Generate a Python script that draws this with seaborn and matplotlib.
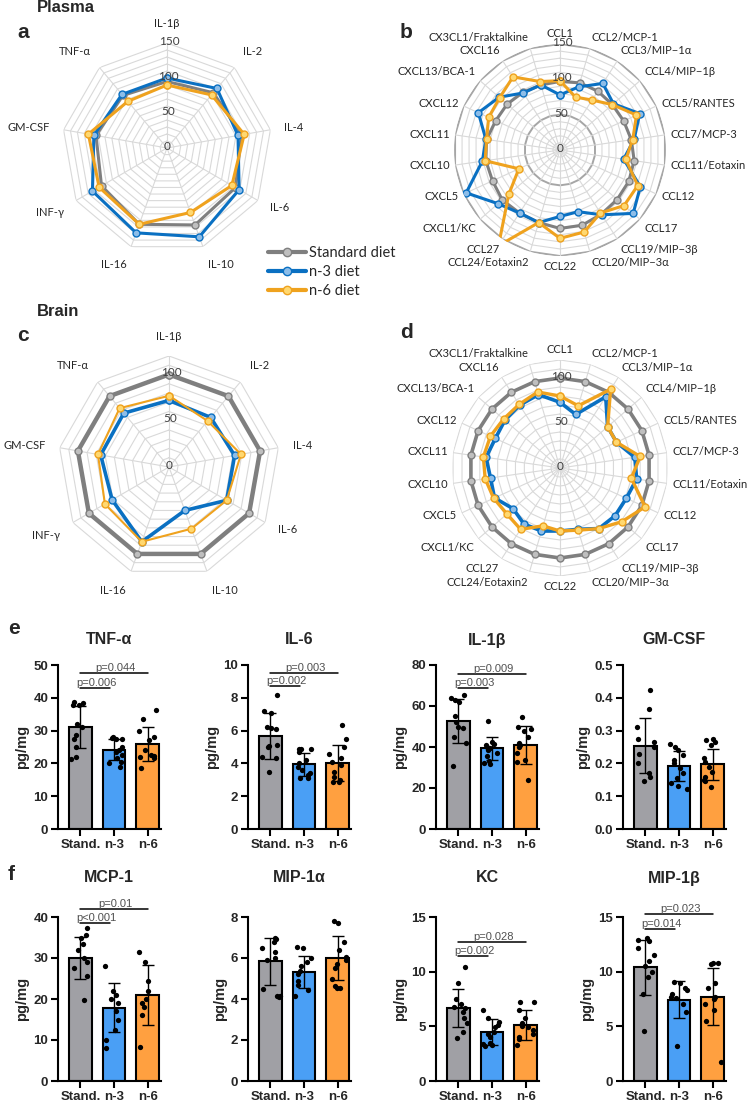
import numpy as np
import pandas as pd
import seaborn as sns
import matplotlib.pyplot as plt
from matplotlib.lines import Line2D

sns.set_theme(style="ticks")
plt.rcParams['font.family'] = ['Liberation Sans', 'DejaVu Sans']
RFONT = ['Lato', 'DejaVu Sans']

W, H = 749, 1103

# ---------------- radar data ----------------
cyto_cats = ['IL-1β', 'IL-2', 'IL-4', 'IL-6', 'IL-10', 'IL-16', 'INF-γ', 'GM-CSF', 'TNF-α']
plasma_std = [95, 103, 108, 113, 117, 116, 108, 103, 98]
plasma_n3 = [100, 111, 103, 119, 135, 129, 123, 106, 100]
plasma_n6 = [90, 99, 112, 107, 98, 116, 112, 114, 87]

brain_std = [100, 100, 100, 100, 100, 100, 100, 100, 100]
brain_n3 = [72, 70, 72, 72, 50, 86, 71, 75, 76]
brain_n6 = [77, 65, 79, 72, 71, 86, 80, 78, 83]

chemo_cats = ['CCL1', 'CCL2/MCP-1', 'CCL3/MIP−1α', 'CCL4/MIP−1β', 'CCL5/RANTES',
              'CCL7/MCP-3', 'CCL11/Eotaxin', 'CCL12', 'CCL17', 'CCL19/MIP−3β',
              'CCL20/MIP−3α', 'CCL22', 'CCL24/Eotaxin2', 'CCL27', 'CXCL1/KC', 'CXCL5',
              'CXCL10', 'CXCL11', 'CXCL12', 'CXCL13/BCA-1', 'CXCL16', 'CX3CL1/Fraktalkine']
pchemo_std = [97, 99, 99, 98, 99, 102, 106, 107, 107, 108, 111, 111, 107, 106, 108, 105, 106, 105, 100, 99, 97, 96]
pchemo_n3 = [78, 93, 112, 100, 124, 106, 91, 125, 137, 109, 91, 94, 107, 106, 116, 146, 111, 106, 127, 114, 96, 96]
pchemo_n6 = [98, 78, 84, 98, 119, 104, 94, 121, 120, 106, 121, 125, 107, 161, 96, 64, 107, 105, 111, 113, 123, 101]

bchemo_std = [100, 100, 100, 100, 100, 100, 100, 100, 100, 100, 100, 100, 100, 100, 100, 100, 100, 100, 100, 100, 100, 100]
bchemo_n3 = [73, 62, 94, 70, 69, 84, 86, 81, 81, 80, 71, 70, 73, 74, 69, 80, 78, 83, 79, 81, 83, 85]
bchemo_n6 = [80, 72, 104, 70, 69, 90, 80, 104, 91, 80, 72, 70, 67, 81, 78, 81, 84, 86, 85, 83, 84, 88]

diet_names = ['Standard diet', 'n-3 diet', 'n-6 diet']
line_cols = ['#7F7F7F', '#0A70C2', '#EFA21E']
face_cols = ['#BFBFBF', '#8DBDE8', '#FFD870']

# ---------------- bar data ----------------
groups = ['Stand.', 'n-3', 'n-6']
bar_cols = ['#A0A0A5', '#4A9FF5', '#FFA040']

tnf_pts = [[38.8, 38.5, 37.8, 37.7, 32, 31, 28.6, 27.3, 25, 22, 21.2],
           [28, 27.8, 27.5, 27.3, 25, 24, 23.5, 22.5, 21.5, 20.5, 20, 19],
           [36.2, 33.5, 30, 28, 27, 24, 22.5, 22.3, 22, 21.7, 18.6]]
tnf_mean = [31.1, 24.1, 25.9]
tnf_sd = [6.3, 3.2, 5.3]

il6_pts = [[8.2, 7.2, 7.05, 6.2, 6.15, 6.1, 5.1, 5.05, 5.0, 4.4, 4.3, 3.5],
           [4.9, 4.9, 4.85, 4.7, 4.2, 4.0, 3.8, 3.6, 3.4, 3.3, 3.1, 3.1],
           [6.35, 5.5, 5.0, 4.6, 4.3, 4.1, 3.9, 3.5, 3.2, 3.0, 2.85, 2.85]]
il6_mean = [5.65, 3.95, 4.0]
il6_sd = [1.4, 0.7, 1.1]

il1b_pts = [[65.5, 64, 63, 62, 55, 52, 50, 49.5, 45, 42, 30.7],
            [52.5, 42.5, 41.5, 40.8, 40, 39.5, 38.5, 37, 35.5, 33, 32, 31.5],
            [54.5, 50, 49, 48, 45, 42, 41, 40, 37, 33.5, 32.5, 24]]
il1b_mean = [52.6, 39.3, 40.9]
il1b_sd = [10.8, 5.4, 9.2]

gm_pts = [[0.425, 0.365, 0.31, 0.275, 0.265, 0.25, 0.23, 0.2, 0.17, 0.16, 0.145],
          [0.26, 0.25, 0.24, 0.225, 0.21, 0.2, 0.185, 0.17, 0.155, 0.14, 0.13, 0.122],
          [0.275, 0.27, 0.265, 0.255, 0.215, 0.205, 0.19, 0.175, 0.16, 0.15, 0.145, 0.128]]
gm_mean = [0.254, 0.192, 0.197]
gm_sd = [0.084, 0.046, 0.048]

mcp1_pts = [[37.3, 35.5, 35, 33.5, 32, 30, 29, 27.5, 25.5, 19.8],
            [28, 22, 21, 20, 19, 17, 15, 12.5, 10, 8],
            [31.5, 29, 24.5, 22, 20, 19, 18, 16, 8.4]]
mcp1_mean = [30.0, 17.9, 20.9]
mcp1_sd = [5.1, 6.0, 7.3]

mip1a_pts = [[7.0, 6.95, 6.8, 6.5, 6.3, 6.0, 5.9, 4.5, 4.15, 4.15, 4.1],
             [6.55, 6.5, 6.0, 5.8, 5.6, 5.35, 5.2, 4.9, 4.7, 4.45, 4.15],
             [7.8, 7.7, 6.8, 6.4, 6.05, 5.9, 5.7, 5.5, 5.0, 4.65, 4.55, 4.55]]
mip1a_mean = [5.85, 5.33, 5.98]
mip1a_sd = [1.15, 0.78, 1.07]

kc_pts = [[10.4, 9.0, 7.5, 7.0, 6.8, 6.7, 6.3, 5.8, 5.3, 4.5, 3.9],
          [6.5, 5.8, 5.4, 5.1, 4.9, 4.5, 4.3, 4.0, 3.5, 3.4, 3.3, 3.2],
          [7.2, 7.2, 6.5, 5.8, 5.3, 5.0, 4.9, 4.7, 4.3, 4.0, 3.8, 3.3]]
kc_mean = [6.65, 4.5, 5.1]
kc_sd = [1.75, 1.19, 1.35]

mip1b_pts = [[13.1, 12.9, 12.8, 12.2, 11.5, 11.0, 10.5, 10.0, 9.5, 8.0, 4.6],
             [9.1, 9.0, 8.5, 8.3, 8.0, 7.7, 7.6, 7.0, 6.3, 3.2],
             [10.8, 10.8, 10.7, 9.0, 8.5, 7.7, 7.5, 7.0, 6.5, 5.5, 1.7]]
mip1b_mean = [10.4, 7.45, 7.7]
mip1b_sd = [2.5, 1.7, 2.6]

# p-value brackets: (Stand vs n-3, Stand vs n-6) labels and heights
tnf_p = ['p=0.006', 'p=0.044']; tnf_ph = [43.1, 47.6]
il6_p = ['p=0.002', 'p=0.003']; il6_ph = [8.72, 9.53]
il1b_p = ['p=0.003', 'p=0.009']; il1b_ph = [68.6, 75.4]
mcp1_p = ['p<0.001', 'p=0.01']; mcp1_ph = [38.5, 41.9]
kc_p = ['p=0.002', 'p=0.028']; kc_ph = [11.44, 12.74]
mip1b_p = ['p=0.014', 'p=0.023']; mip1b_ph = [13.88, 15.25]

fig = plt.figure(figsize=(W / 100, H / 100), dpi=100)


def radar(cx, cy, rad, cats, series, rmax, ticks, dark=(), lws=(2.2, 2.2, 2.2),
          lab_f=1.12, fs=8):
    ax = fig.add_axes([(cx - rad) / W, 1 - (cy + rad) / H, 2 * rad / W, 2 * rad / H],
                      polar=True)
    ax.set_theta_offset(np.pi / 2)
    ax.set_theta_direction(-1)
    ax.grid(False)
    ax.spines['polar'].set_visible(False)
    ax.patch.set_alpha(0)
    n = len(cats)
    th = np.linspace(0, 2 * np.pi, n, endpoint=False)
    thc = np.append(th, 2 * np.pi)
    for r in range(10, rmax + 1, 10):
        c, lw = ('#A6A6A6', 1.4) if r in dark else ('#D9D9D9', 0.8)
        ax.plot(thc, [r] * (n + 1), color=c, lw=lw, zorder=1)
    for t in th:
        ax.plot([t, t], [0, rmax], color='#D9D9D9', lw=0.8, zorder=1)
    for k, vals in enumerate(series):
        sns.lineplot(x=thc, y=list(vals) + [vals[0]], sort=False, estimator=None, ax=ax,
                     color=line_cols[k], linewidth=lws[k], marker='o', markersize=5,
                     markerfacecolor=face_cols[k], markeredgecolor=line_cols[k],
                     markeredgewidth=1, zorder=3 + k)
    ax.set_xticks([])
    ax.set_yticks([])
    ax.set_xlabel('')
    ax.set_ylabel('')
    ax.set_ylim(0, rmax)
    for t in ticks:
        ax.text(0.02, t + 2, str(t), ha='center', va='center', fontsize=8.5,
                color='#404040', family=RFONT, zorder=10)
    for t, lab in zip(th, cats):
        s, c = np.sin(t), np.cos(t)
        ha = 'left' if s > 0.15 else ('right' if s < -0.15 else 'center')
        va = 'bottom' if c > 0.5 else ('top' if c < -0.5 else 'center')
        ax.text(t, rmax * lab_f, lab, ha=ha, va=va, fontsize=fs, color='#262626',
                family=RFONT)
    return ax


radar(167, 148, 105, cyto_cats, [plasma_std, plasma_n3, plasma_n6], 150, [0, 50, 100, 150],
      lab_f=1.13)
radar(560, 150, 106, chemo_cats, [pchemo_std, pchemo_n3, pchemo_n6], 150, [0, 50, 100, 150],
      dark=(50, 150), lab_f=1.05)
radar(169, 467, 111, cyto_cats, [brain_std, brain_n3, brain_n6], 120, [0, 50, 100],
      lws=(3.2, 2.6, 1.5), lab_f=1.13)
radar(560, 468, 108, chemo_cats, [bchemo_std, bchemo_n3, bchemo_n6], 120, [0, 50, 100],
      lws=(2.6, 2.6, 2.4), lab_f=1.05)

handles = [Line2D([], [], color=line_cols[k], lw=3, marker='o', markersize=6,
                  markerfacecolor=face_cols[k], markeredgecolor=line_cols[k])
           for k in range(3)]
fig.legend(handles, diet_names, loc='upper left', bbox_to_anchor=(268 / W, 1 - 246 / H),
           frameon=False, prop=dict(family=RFONT, size=10.5), handlelength=2.6,
           handletextpad=0.2, labelspacing=0.35, borderpad=0, borderaxespad=0)


def ft(x, y, s, **kw):
    fig.text(x / W, 1 - y / H, s, ha='left', va='center', fontweight='bold', **kw)


ft(37, 8, 'Plasma', fontsize=12)
ft(37, 311, 'Brain', fontsize=12)
ft(17, 32, 'a', fontsize=15)
ft(400, 32, 'b', fontsize=15)
ft(17, 336, 'c', fontsize=15)
ft(400, 332, 'd', fontsize=15)
ft(8, 628, 'e', fontsize=15)
ft(8, 874, 'f', fontsize=15)


def bar_panel(left, bottom, title, title_y, pts, means, sds, ymax, ystep, plab=(), ph=(),
              dec=0):
    ax = fig.add_axes([left / W, 1 - bottom / H, 103 / W, 164 / H])
    sns.barplot(x=groups, y=means, hue=groups, palette=bar_cols, order=groups,
                hue_order=groups, width=0.67, edgecolor='black', linewidth=1.5,
                errorbar=None, legend=False, saturation=1, ax=ax, zorder=2)
    ax.errorbar([0, 1, 2], means, yerr=sds, fmt='none', ecolor='black', elinewidth=1.0,
                capsize=4.5, capthick=1.0, zorder=3)
    df = pd.DataFrame({'group': np.repeat(groups, [len(v) for v in pts]),
                       'val': np.concatenate(pts)})
    sns.stripplot(data=df, x='group', y='val', order=groups, color='black', size=3.8,
                  jitter=0.27, ax=ax, zorder=4)
    ax.set_xlim(-0.67, 2.4)
    ax.set_ylim(0, ymax)
    yt = np.arange(0, ymax + ystep / 2, ystep)
    ax.set_yticks(yt)
    ax.set_yticklabels([f'{v:.{dec}f}' for v in yt])
    ax.set_xlabel('')
    ax.set_ylabel('pg/mg', fontsize=10.5, fontweight='bold', labelpad=3)
    for sp in ['top', 'right']:
        ax.spines[sp].set_visible(False)
    for sp in ['left', 'bottom']:
        ax.spines[sp].set_linewidth(1.5)
        ax.spines[sp].set_color('black')
    ax.tick_params(width=1.5, length=5, labelsize=9.5, color='black', pad=2)
    for lbl in ax.get_xticklabels() + ax.get_yticklabels():
        lbl.set_fontweight('bold')
    ends = [0.87, 2.0]
    for k, (lab, h) in enumerate(zip(plab, ph)):
        ax.plot([0, ends[k]], [h, h], color='black', lw=1.1, clip_on=False)
        ax.text(ends[k] / 2 + 0.05, h, lab, ha='center', va='bottom', fontsize=8,
                color='#505050')
    fig.text((left + 51) / W, 1 - title_y / H, title, ha='center', va='center',
             fontsize=11.5, fontweight='bold')
    return ax


row_e, row_f = 829, 1081
bar_panel(58, row_e, 'TNF-α', 640, tnf_pts, tnf_mean, tnf_sd, 50, 10, tnf_p, tnf_ph)
bar_panel(248, row_e, 'IL-6', 640, il6_pts, il6_mean, il6_sd, 10, 2, il6_p, il6_ph)
bar_panel(436, row_e, 'IL-1β', 640, il1b_pts, il1b_mean, il1b_sd, 80, 20, il1b_p, il1b_ph)
bar_panel(623, row_e, 'GM-CSF', 640, gm_pts, gm_mean, gm_sd, 0.5, 0.1, dec=1)
bar_panel(58, row_f, 'MCP-1', 878, mcp1_pts, mcp1_mean, mcp1_sd, 40, 10, mcp1_p, mcp1_ph)
bar_panel(248, row_f, 'MIP-1α', 878, mip1a_pts, mip1a_mean, mip1a_sd, 8, 2)
bar_panel(436, row_f, 'KC', 878, kc_pts, kc_mean, kc_sd, 15, 5, kc_p, kc_ph)
bar_panel(623, row_f, 'MIP-1β', 878, mip1b_pts, mip1b_mean, mip1b_sd, 15, 5, mip1b_p, mip1b_ph)

fig.savefig('out.png', dpi=100)
